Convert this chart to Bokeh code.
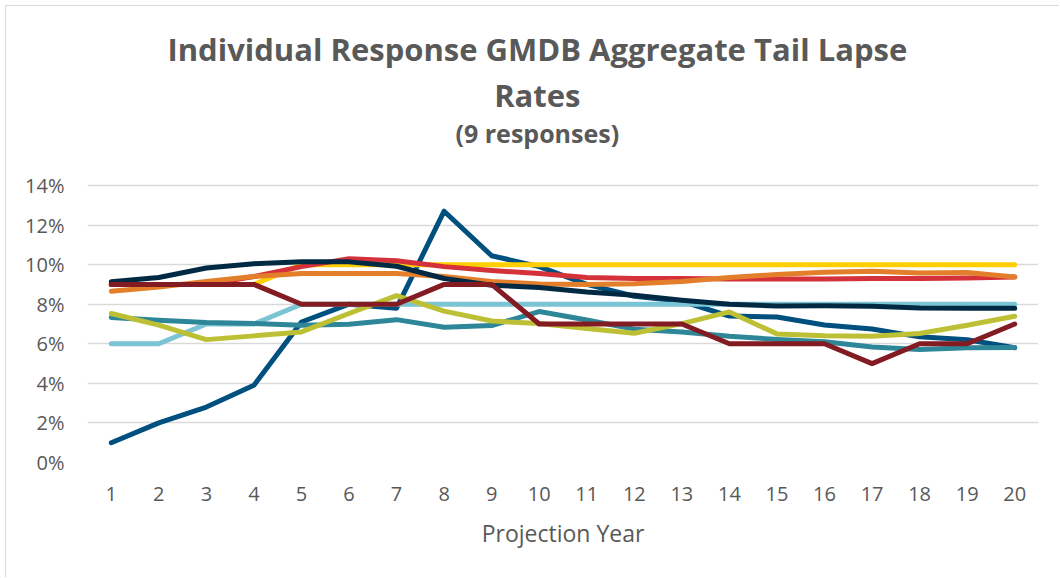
from bokeh.plotting import figure
from bokeh.models import FixedTicker, PrintfTickFormatter, Label, Range1d, ColumnDataSource
from bokeh.embed import file_html
from bokeh.resources import INLINE

# ---- data (percent) ----
years = list(range(1, 21))
y_ticks = [0, 2, 4, 6, 8, 10, 12, 14]

resp_dark_blue = [1.0, 2.0, 2.8, 3.9, 7.1, 8.0, 7.8, 12.7, 10.45, 9.9, 9.0, 8.4, 8.15, 7.4, 7.35, 6.95, 6.75, 6.35, 6.2, 5.8]
resp_light_blue = [6.0, 6.0, 7.0, 7.0, 8.0, 8.0, 8.0, 8.0, 8.0, 8.0, 8.0, 8.0, 8.0, 8.0, 8.0, 8.0, 8.0, 8.0, 8.0, 8.0]
resp_yellow = [9.0, 9.0, 9.0, 9.0, 10.0, 10.0, 10.0, 10.0, 10.0, 10.0, 10.0, 10.0, 10.0, 10.0, 10.0, 10.0, 10.0, 10.0, 10.0, 10.0]
resp_red = [9.0, 9.0, 9.0, 9.4, 9.9, 10.3, 10.2, 9.9, 9.7, 9.55, 9.35, 9.3, 9.3, 9.28, 9.27, 9.28, 9.3, 9.3, 9.33, 9.38]
resp_orange = [8.66, 8.87, 9.15, 9.4, 9.55, 9.55, 9.55, 9.4, 9.15, 9.02, 9.0, 9.03, 9.15, 9.35, 9.5, 9.62, 9.67, 9.58, 9.6, 9.38]
resp_teal = [7.33, 7.19, 7.07, 7.02, 6.94, 6.99, 7.22, 6.84, 6.92, 7.63, 7.2, 6.74, 6.6, 6.38, 6.22, 6.1, 5.84, 5.71, 5.8, 5.81]
resp_olive = [7.53, 6.94, 6.21, 6.4, 6.6, 7.53, 8.43, 7.65, 7.15, 7.02, 6.77, 6.53, 7.02, 7.61, 6.5, 6.4, 6.38, 6.52, 6.94, 7.39]
resp_navy = [9.13, 9.35, 9.83, 10.05, 10.15, 10.14, 9.92, 9.3, 8.96, 8.85, 8.62, 8.45, 8.2, 8.0, 7.91, 7.92, 7.9, 7.81, 7.8, 7.8]
resp_dark_red = [9.0, 9.0, 9.0, 9.0, 8.0, 8.0, 8.0, 9.0, 9.0, 7.0, 7.0, 7.0, 7.0, 6.0, 6.0, 6.0, 5.0, 6.0, 6.0, 7.0]

title_lines = ["Individual Response GMDB Aggregate Tail Lapse", "Rates", "(9 responses)"]

series = [
    (resp_dark_blue, "#00507F"),
    (resp_light_blue, "#7BC4D4"),
    (resp_yellow, "#FFCF01"),
    (resp_red, "#D5313A"),
    (resp_orange, "#E37F2B"),
    (resp_teal, "#2D8798"),
    (resp_olive, "#BDC034"),
    (resp_navy, "#002A43"),
    (resp_dark_red, "#831C22"),
]

TXT = "#595959"

# plot frame spans from the top of the canvas; gridlines/ticks only 0..14 %
PX_PER_UNIT = 277 / 14.0
FRAME_H = 456
y_top = FRAME_H / PX_PER_UNIT

p = figure(width=1054, height=572, output_backend="svg", toolbar_location=None,
           x_range=Range1d(0.5, 20.5), y_range=Range1d(0, y_top),
           min_border_left=81, min_border_right=22, min_border_top=0, min_border_bottom=116,
           title=None,
           styles={"margin-left": "5px", "margin-top": "5px",
                   "border-left": "1px solid #D9D9D9", "border-top": "1px solid #D9D9D9"})
p.outline_line_color = None
p.background_fill_color = "white"
p.border_fill_color = "white"

for vals, col in series:
    src = ColumnDataSource(dict(x=years, y=vals))
    p.line("x", "y", source=src, line_color=col, line_width=5,
           line_join="round", line_cap="round")

p.xgrid.visible = False
p.ygrid.ticker = FixedTicker(ticks=y_ticks)
p.ygrid.grid_line_color = "#D9D9D9"
p.ygrid.grid_line_width = 1.5

p.yaxis.ticker = FixedTicker(ticks=y_ticks)
p.yaxis.formatter = PrintfTickFormatter(format="%d%%")
p.xaxis.ticker = FixedTicker(ticks=years)

for ax in (p.xaxis, p.yaxis):
    ax.axis_line_color = None
    ax.major_tick_line_color = None
    ax.minor_tick_line_color = None
    ax.major_label_text_font = "Open Sans"
    ax.major_label_text_font_size = "20px"
    ax.major_label_text_color = TXT

p.yaxis.major_label_standoff = 17
p.xaxis.major_label_standoff = 18
p.xaxis.axis_label = "Projection Year"
p.xaxis.axis_label_text_font = "Open Sans"
p.xaxis.axis_label_text_font_style = "normal"
p.xaxis.axis_label_text_font_size = "23px"
p.xaxis.axis_label_text_color = TXT
p.xaxis.axis_label_standoff = 13

title_x = 9.96
for txt, yv, size in [(title_lines[0], (462 - 48) / PX_PER_UNIT, "31px"),
                      (title_lines[1], (462 - 94) / PX_PER_UNIT, "31px"),
                      (title_lines[2], (462 - 132) / PX_PER_UNIT, "25px")]:
    p.add_layout(Label(x=title_x, y=yv, text=txt, text_align="center", text_baseline="alphabetic",
                       text_font="Open Sans", text_font_style="bold", text_font_size=size,
                       text_color=TXT))

open("out.html", "w").write(file_html(p, INLINE))
